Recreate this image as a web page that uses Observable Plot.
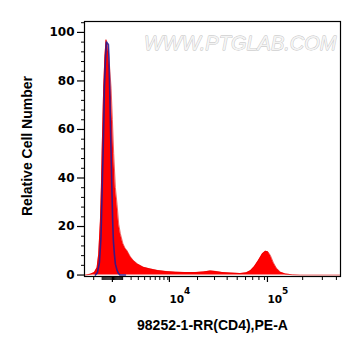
<!DOCTYPE html>
<html><head><meta charset="utf-8">
<script src="https://cdn.jsdelivr.net/npm/d3@7"></script>
<script src="https://cdn.jsdelivr.net/npm/@observablehq/plot@0.6"></script>
<style>
html,body{margin:0;padding:0;background:#fff;}
#chart svg{display:block;}
</style></head><body><div id="chart"></div>
<script>
// ---- data (fluorescence intensity vs. relative cell number) ----
const redX = [-3165,-2440,-1912,-1579,-1390,-1196,-1085,-1008,-922,-838,-713,-592,-512,-415,-338,-226,-116,0,116,272,434,592,765,1031,1275,1508,1912,2305,2866,3798,5038,6467,8369,11222,14715,18996,23099,27277,30643,35975,43060,53697,61196,66720,72719,79222,86260,91946,96944,102203,108880,115967,126120,140018,161968,191230,435000];
const redY = [0,0.3,1.0,3.0,8.5,22,36,50,64,77,90,97,96,94.5,91,84,77,64,50,36,29,21,17,13,11,10,7.5,6,4.6,3.2,2.5,1.9,1.5,1.2,1.0,1.0,1.3,1.7,1.5,1.0,0.8,0.6,0.9,1.8,3.5,6.0,8.8,9.8,9.6,8,5,2.8,1.2,0.4,0.1,0,0];
const blueX = [-1787,-1542,-1310,-1140,-1085,-976,-901,-817,-765,-662,-562,-463,-367,-319,-244,-180,-116,-44,26,89,180,272,434,562,713,1310];
const blueY = [0,1,5,15,22,40,50,65,77,88,96,95.5,95,90,77,62,50,35,22,14,8.5,4.5,1.9,0.7,0,0];

const xMajorTicks = [0, 1e4, 1e5];
const xMajorLabels = ["0", "10^4", "10^5"];
const xMinorTicks = [-2000,-1000,-900,-800,-700,-600,-500,-400,-300,-200,-100,100,200,300,400,500,600,700,800,900,
  1000,2000,3000,4000,5000,6000,7000,8000,9000,
  20000,30000,40000,50000,60000,70000,80000,90000,
  200000,300000,400000];
const yMajorTicks = [0,20,40,60,80,100];
const yMinorTicks = [4,8,12,16,24,28,32,36,44,48,52,56,64,68,72,76,84,88,92,96,104];
const xTitle = "98252-1-RR(CD4),PE-A";
const yTitle = "Relative Cell Number";
const watermark = "WWW.PTGLAB.COM";

const red = redX.map((x, i) => ({x, y: redY[i]}));
const blue = blueX.map((x, i) => ({x, y: blueY[i]}));
const labelOf = new Map(xMajorTicks.map((t, i) => [t, xMajorLabels[i]]));

const tickFont = "DejaVu Sans";
const titleFont = "Liberation Sans, Arial, sans-serif";

const plot = Plot.plot({
  width: 361,
  height: 356,
  marginLeft: 84,
  marginRight: 21,
  marginTop: 21,
  marginBottom: 80,
  style: {background: "#fff", color: "#000", overflow: "visible"},
  x: {type: "symlog", constant: 4350, domain: [-3300, 435000]},
  y: {domain: [-0.6, 104.5]},
  marks: [
    Plot.areaY(red, {x: "x", y: "y", fill: "#ff0000"}),
    Plot.line(red, {x: "x", y: "y", stroke: "#e00000", strokeWidth: 0.6}),
    Plot.line(blue, {x: "x", y: "y", stroke: "#1c1a9a", strokeWidth: 1.6, strokeOpacity: 0.85}),
    Plot.text([watermark], {frameAnchor: "top-right", dx: -4, dy: 14, fontFamily: titleFont, fontSize: 20,
      fill: "#f4f4f4", stroke: "#bdbdbd", strokeWidth: 0.8, textAnchor: "end", fontStyle: "italic"}),
    Plot.frame({stroke: "#000", strokeWidth: 1.2}),
    Plot.axisY(yMajorTicks, {tickSize: 7, tickPadding: 3, fontFamily: tickFont, fontWeight: "bold", fontSize: 12, label: null, strokeWidth: 1.2}),
    Plot.axisY(yMinorTicks, {tickSize: 3, tickFormat: () => "", label: null}),
    Plot.axisX([0], {tickSize: 6, tickPadding: 13, fontFamily: tickFont, fontWeight: "bold", fontSize: 10.5, label: null,
      tickFormat: d => labelOf.get(d), strokeWidth: 1.2}),
    Plot.axisX([1e4, 1e5], {tickSize: 6, tickPadding: 13, fontFamily: tickFont, fontWeight: "bold", fontSize: 10.5, label: null,
      tickFormat: d => labelOf.get(d), textAnchor: "start", dx: -2, strokeWidth: 1.2}),
    Plot.axisX(xMinorTicks, {tickSize: 4, tickFormat: () => "", label: null}),
    Plot.text([xTitle], {frameAnchor: "bottom", dy: 53, textAnchor: "middle", fontFamily: titleFont, fontWeight: "bold", fontSize: 14, fill: "#000"}),
    Plot.text([yTitle], {frameAnchor: "middle", dx: -185, dy: -3, rotate: -90, fontFamily: titleFont, fontWeight: "bold", fontSize: 14, fill: "#000"})
  ]
});

// superscript exponents on the power-of-ten tick labels
plot.querySelectorAll("text").forEach(t => {
  const s = t.textContent;
  const m = /^10\^(\d+)$/.exec(s);
  if (m) {
    t.textContent = "10";
    const sup = document.createElementNS("http://www.w3.org/2000/svg", "tspan");
    sup.setAttribute("dy", "-9");
    sup.setAttribute("font-size", "9");
    sup.textContent = m[1];
    t.appendChild(sup);
  }
});
document.getElementById("chart").appendChild(plot);
</script>
</body></html>
